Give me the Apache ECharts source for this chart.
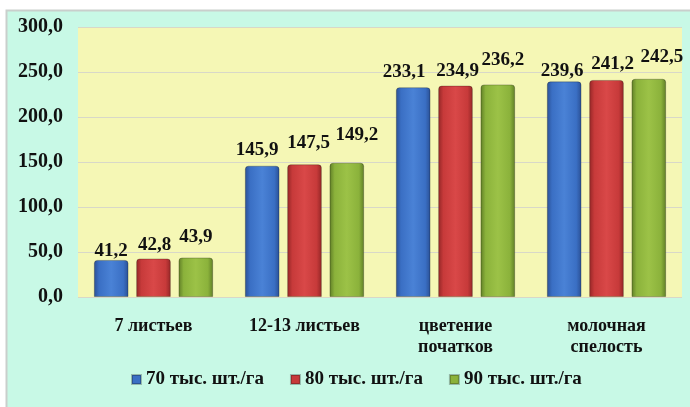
<!DOCTYPE html>
<html><head><meta charset="utf-8">
<script src="https://cdn.jsdelivr.net/npm/echarts@6/dist/echarts.min.js"></script>
<style>html,body{margin:0;padding:0;background:#fff}#c{width:690px;height:407px}</style>
</head><body><div id="c"></div>
<script>
const categories = ['7 листьев', '12-13 листьев', 'цветение\nпочатков', 'молочная\nспелость'];
const seriesNames = ['70 тыс. шт./га', '80 тыс. шт./га', '90 тыс. шт./га'];
const s70 = [41.2, 145.9, 233.1, 239.6];
const s80 = [42.8, 147.5, 234.9, 241.2];
const s90 = [43.9, 149.2, 236.2, 242.5];
const yMin = 0, yMax = 300, yStep = 50;

// label placement (style only): px nudges per series / category
const labelLift = [
  [-2, 5, 5, 0],
  [3, 11, 4, 5],
  [10, 17, 14, 11]
];
const labelShift = [
  [0, -5, -9, -2],
  [1, 4, 2, 6],
  [0, 10, 5, 13]
];

const fmt = v => v.toFixed(1).replace('.', ',');
const font = '"Liberation Serif", "Times New Roman", serif';
function grad(light, mid, dark) {
  return new echarts.graphic.LinearGradient(0, 0, 1, 0, [
    {offset: 0, color: dark}, {offset: 0.15, color: mid}, {offset: 0.5, color: light},
    {offset: 0.85, color: mid}, {offset: 1, color: dark}
  ]);
}
const colors = [
  grad('#4a82d6', '#3a6fc4', '#2a4f93'),
  grad('#d94848', '#c73a3a', '#922626'),
  grad('#9cc247', '#8bb23b', '#5f7d26')
];
const legendColors = ['#3a6fc4', '#c73a3a', '#8bb23b'];
const data = [s70, s80, s90];

const chart = echarts.init(document.getElementById('c'));
chart.setOption({
  animation: false,
  graphic: [{
    type: 'rect', z: -10,
    shape: {x: 6.5, y: 10.5, width: 690, height: 400},
    style: {fill: '#c8f9e6', stroke: '#c9cfcc', lineWidth: 2}
  }],
  grid: {left: 78, right: 8, top: 27, bottom: 110, show: true, backgroundColor: '#f5f7b5', borderWidth: 0},
  legend: {
    bottom: 13, left: 126, itemWidth: 9, itemHeight: 9, itemGap: 26,
    icon: 'rect',
    textStyle: {fontFamily: font, fontWeight: 'bold', fontSize: 19, color: '#111'},
    data: seriesNames.map((n, i) => ({name: n, itemStyle: {color: legendColors[i]}}))
  },
  xAxis: {
    type: 'category', data: categories,
    axisLine: {show: false}, axisTick: {show: false},
    axisLabel: {interval: 0, fontFamily: font, fontWeight: 'bold', fontSize: 18, color: '#111', margin: 19, lineHeight: 21}
  },
  yAxis: {
    type: 'value', min: yMin, max: yMax, interval: yStep,
    axisLine: {show: false}, axisTick: {show: false},
    splitLine: {lineStyle: {color: '#d8d8c8', width: 1}},
    axisLabel: {fontFamily: font, fontWeight: 'bold', fontSize: 20, color: '#111', margin: 15, formatter: v => fmt(v)}
  },
  series: data.map((d, i) => ({
    name: seriesNames[i], type: 'bar',
    data: d.map((v, j) => ({value: v, label: {offset: [labelShift[i][j], -labelLift[i][j]]}})),
    barGap: '22%', barCategoryGap: '21%',
    itemStyle: {color: colors[i], borderColor: 'rgba(0,0,0,0.25)', borderWidth: 1, borderRadius: [3, 3, 0, 0]},
    label: {show: true, position: 'top', distance: 1, fontFamily: font, fontWeight: 'bold', fontSize: 19, color: '#111', formatter: p => fmt(p.value)}
  }))
});
</script></body></html>
